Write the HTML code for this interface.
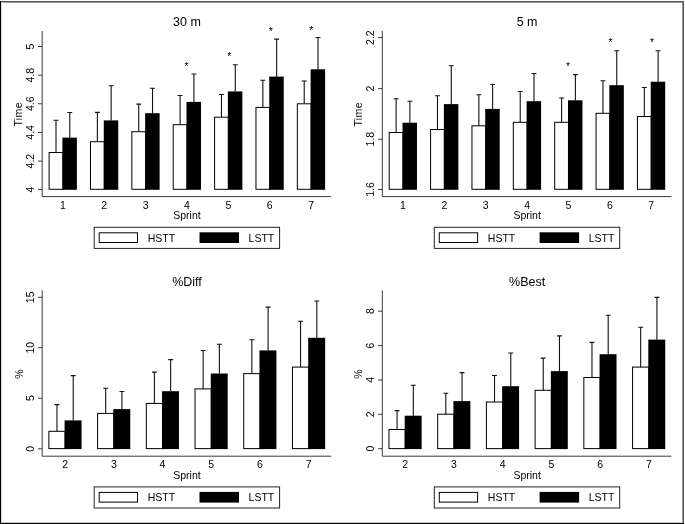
<!DOCTYPE html>
<html><head><meta charset="utf-8"><title>Figure</title>
<style>
html,body{margin:0;padding:0;background:#fff;}
svg{display:block;}
text{font-family:"Liberation Sans",Arial,sans-serif;fill:#000;}
</style></head><body>
<svg width="685" height="524" viewBox="0 0 685 524">
<rect width="685" height="524" fill="#fff"/>
<text x="187" y="26.2" font-size="12.5" text-anchor="middle">30 m</text>
<path d="M56.00 152.50V120.20M53.55 120.20H58.45" stroke="#111" stroke-width="1.1" fill="none"/>
<path d="M69.80 137.70V112.50M67.34 112.50H72.25" stroke="#111" stroke-width="1.1" fill="none"/>
<rect x="49.11" y="152.50" width="13.79" height="36.80" fill="#fff" stroke="#000" stroke-width="1"/>
<rect x="62.40" y="137.60" width="14.49" height="52.20" fill="#000"/>
<text x="62.90" y="208.60" font-size="10.5" text-anchor="middle">1</text>
<path d="M97.38 141.70V112.40M94.92 112.40H99.83" stroke="#111" stroke-width="1.1" fill="none"/>
<path d="M111.16 120.50V85.70M108.71 85.70H113.61" stroke="#111" stroke-width="1.1" fill="none"/>
<rect x="90.48" y="141.70" width="13.79" height="47.60" fill="#fff" stroke="#000" stroke-width="1"/>
<rect x="103.77" y="120.40" width="14.49" height="69.40" fill="#000"/>
<text x="104.27" y="208.60" font-size="10.5" text-anchor="middle">2</text>
<path d="M138.74 131.70V104.10M136.29 104.10H141.19" stroke="#111" stroke-width="1.1" fill="none"/>
<path d="M152.53 113.30V88.30M150.09 88.30H154.98" stroke="#111" stroke-width="1.1" fill="none"/>
<rect x="131.85" y="131.70" width="13.79" height="57.60" fill="#fff" stroke="#000" stroke-width="1"/>
<rect x="145.14" y="113.20" width="14.49" height="76.60" fill="#000"/>
<text x="145.64" y="208.60" font-size="10.5" text-anchor="middle">3</text>
<path d="M180.11 124.70V95.50M177.66 95.50H182.56" stroke="#111" stroke-width="1.1" fill="none"/>
<path d="M193.91 102.00V74.00M191.46 74.00H196.35" stroke="#111" stroke-width="1.1" fill="none"/>
<rect x="173.22" y="124.70" width="13.79" height="64.60" fill="#fff" stroke="#000" stroke-width="1"/>
<rect x="186.51" y="101.90" width="14.49" height="87.90" fill="#000"/>
<text x="187.01" y="208.60" font-size="10.5" text-anchor="middle">4</text>
<path d="M221.48 117.20V94.50M219.03 94.50H223.93" stroke="#111" stroke-width="1.1" fill="none"/>
<path d="M235.28 91.50V64.80M232.83 64.80H237.72" stroke="#111" stroke-width="1.1" fill="none"/>
<rect x="214.59" y="117.20" width="13.79" height="72.10" fill="#fff" stroke="#000" stroke-width="1"/>
<rect x="227.88" y="91.40" width="14.49" height="98.40" fill="#000"/>
<text x="228.38" y="208.60" font-size="10.5" text-anchor="middle">5</text>
<path d="M262.86 107.40V80.20M260.41 80.20H265.31" stroke="#111" stroke-width="1.1" fill="none"/>
<path d="M276.64 76.70V39.10M274.19 39.10H279.09" stroke="#111" stroke-width="1.1" fill="none"/>
<rect x="255.96" y="107.40" width="13.79" height="81.90" fill="#fff" stroke="#000" stroke-width="1"/>
<rect x="269.25" y="76.60" width="14.49" height="113.20" fill="#000"/>
<text x="269.75" y="208.60" font-size="10.5" text-anchor="middle">6</text>
<path d="M304.22 103.80V81.00M301.77 81.00H306.67" stroke="#111" stroke-width="1.1" fill="none"/>
<path d="M318.01 69.40V37.50M315.56 37.50H320.46" stroke="#111" stroke-width="1.1" fill="none"/>
<rect x="297.33" y="103.80" width="13.79" height="85.50" fill="#fff" stroke="#000" stroke-width="1"/>
<rect x="310.62" y="69.30" width="14.49" height="120.50" fill="#000"/>
<text x="311.12" y="208.60" font-size="10.5" text-anchor="middle">7</text>
<text x="186.50" y="69.60" font-size="10.5" text-anchor="middle">*</text>
<text x="229.30" y="59.90" font-size="10.5" text-anchor="middle">*</text>
<text x="270.90" y="35.30" font-size="10.5" text-anchor="middle">*</text>
<text x="311.20" y="33.60" font-size="10.5" text-anchor="middle">*</text>
<path d="M42.2 31.0V196.6H331.3" stroke="#3a3a3a" stroke-width="1" fill="none"/>
<path d="M38.0 46.50H42.2" stroke="#3a3a3a" stroke-width="1"/>
<text transform="translate(33.6 46.50) rotate(-90)" font-size="10.5" text-anchor="middle">5</text>
<path d="M38.0 75.20H42.2" stroke="#3a3a3a" stroke-width="1"/>
<text transform="translate(33.6 75.20) rotate(-90)" font-size="10.5" text-anchor="middle">4.8</text>
<path d="M38.0 103.80H42.2" stroke="#3a3a3a" stroke-width="1"/>
<text transform="translate(33.6 103.80) rotate(-90)" font-size="10.5" text-anchor="middle">4.6</text>
<path d="M38.0 132.40H42.2" stroke="#3a3a3a" stroke-width="1"/>
<text transform="translate(33.6 132.40) rotate(-90)" font-size="10.5" text-anchor="middle">4.4</text>
<path d="M38.0 161.10H42.2" stroke="#3a3a3a" stroke-width="1"/>
<text transform="translate(33.6 161.10) rotate(-90)" font-size="10.5" text-anchor="middle">4.2</text>
<path d="M38.0 189.60H42.2" stroke="#3a3a3a" stroke-width="1"/>
<text transform="translate(33.6 189.60) rotate(-90)" font-size="10.5" text-anchor="middle">4</text>
<text transform="translate(22.40 114.30) rotate(-90)" font-size="10.5" text-anchor="middle" letter-spacing="0.4">Time</text>
<text x="187" y="218.90" font-size="10.5" text-anchor="middle">Sprint</text>
<rect x="94.2" y="227.30" width="185.4" height="21.1" fill="#fff" stroke="#222" stroke-width="1"/>
<rect x="99.2" y="232.80" width="38.3" height="9.7" fill="#fff" stroke="#000" stroke-width="1"/>
<text x="147.7" y="241.60" font-size="10.5">HSTT</text>
<rect x="199.5" y="232.30" width="39.5" height="10.7" fill="#000"/>
<text x="248.6" y="241.60" font-size="10.5">LSTT</text>
<text x="527.1" y="26.2" font-size="12.5" text-anchor="middle">5 m</text>
<path d="M396.11 132.50V98.70M393.66 98.70H398.56" stroke="#111" stroke-width="1.1" fill="none"/>
<path d="M409.89 122.80V101.20M407.44 101.20H412.34" stroke="#111" stroke-width="1.1" fill="none"/>
<rect x="389.21" y="132.50" width="13.79" height="56.80" fill="#fff" stroke="#000" stroke-width="1"/>
<rect x="402.50" y="122.70" width="14.49" height="67.10" fill="#000"/>
<text x="403.00" y="208.60" font-size="10.5" text-anchor="middle">1</text>
<path d="M437.48 129.50V95.70M435.03 95.70H439.93" stroke="#111" stroke-width="1.1" fill="none"/>
<path d="M451.26 104.20V65.70M448.81 65.70H453.71" stroke="#111" stroke-width="1.1" fill="none"/>
<rect x="430.58" y="129.50" width="13.79" height="59.80" fill="#fff" stroke="#000" stroke-width="1"/>
<rect x="443.87" y="104.10" width="14.49" height="85.70" fill="#000"/>
<text x="444.37" y="208.60" font-size="10.5" text-anchor="middle">2</text>
<path d="M478.85 125.80V94.80M476.40 94.80H481.30" stroke="#111" stroke-width="1.1" fill="none"/>
<path d="M492.63 109.00V84.50M490.19 84.50H495.08" stroke="#111" stroke-width="1.1" fill="none"/>
<rect x="471.95" y="125.80" width="13.79" height="63.50" fill="#fff" stroke="#000" stroke-width="1"/>
<rect x="485.24" y="108.90" width="14.49" height="80.90" fill="#000"/>
<text x="485.74" y="208.60" font-size="10.5" text-anchor="middle">3</text>
<path d="M520.22 122.30V91.50M517.76 91.50H522.67" stroke="#111" stroke-width="1.1" fill="none"/>
<path d="M534.00 101.30V73.50M531.55 73.50H536.46" stroke="#111" stroke-width="1.1" fill="none"/>
<rect x="513.32" y="122.30" width="13.79" height="67.00" fill="#fff" stroke="#000" stroke-width="1"/>
<rect x="526.61" y="101.20" width="14.49" height="88.60" fill="#000"/>
<text x="527.11" y="208.60" font-size="10.5" text-anchor="middle">4</text>
<path d="M561.59 122.30V98.00M559.13 98.00H564.04" stroke="#111" stroke-width="1.1" fill="none"/>
<path d="M575.38 100.40V74.60M572.92 74.60H577.83" stroke="#111" stroke-width="1.1" fill="none"/>
<rect x="554.69" y="122.30" width="13.79" height="67.00" fill="#fff" stroke="#000" stroke-width="1"/>
<rect x="567.98" y="100.30" width="14.49" height="89.50" fill="#000"/>
<text x="568.48" y="208.60" font-size="10.5" text-anchor="middle">5</text>
<path d="M602.96 113.30V80.70M600.50 80.70H605.41" stroke="#111" stroke-width="1.1" fill="none"/>
<path d="M616.75 85.30V50.80M614.29 50.80H619.20" stroke="#111" stroke-width="1.1" fill="none"/>
<rect x="596.06" y="113.30" width="13.79" height="76.00" fill="#fff" stroke="#000" stroke-width="1"/>
<rect x="609.35" y="85.20" width="14.49" height="104.60" fill="#000"/>
<text x="609.85" y="208.60" font-size="10.5" text-anchor="middle">6</text>
<path d="M644.33 116.50V87.50M641.88 87.50H646.78" stroke="#111" stroke-width="1.1" fill="none"/>
<path d="M658.12 81.80V50.80M655.66 50.80H660.57" stroke="#111" stroke-width="1.1" fill="none"/>
<rect x="637.43" y="116.50" width="13.79" height="72.80" fill="#fff" stroke="#000" stroke-width="1"/>
<rect x="650.72" y="81.70" width="14.49" height="108.10" fill="#000"/>
<text x="651.22" y="208.60" font-size="10.5" text-anchor="middle">7</text>
<text x="568.00" y="69.70" font-size="10.5" text-anchor="middle">*</text>
<text x="610.50" y="46.20" font-size="10.5" text-anchor="middle">*</text>
<text x="652.00" y="46.20" font-size="10.5" text-anchor="middle">*</text>
<path d="M382.3 31.0V196.6H671.4000000000001" stroke="#3a3a3a" stroke-width="1" fill="none"/>
<path d="M378.1 37.60H382.3" stroke="#3a3a3a" stroke-width="1"/>
<text transform="translate(373.70000000000005 37.60) rotate(-90)" font-size="10.5" text-anchor="middle">2.2</text>
<path d="M378.1 88.60H382.3" stroke="#3a3a3a" stroke-width="1"/>
<text transform="translate(373.70000000000005 88.60) rotate(-90)" font-size="10.5" text-anchor="middle">2</text>
<path d="M378.1 139.20H382.3" stroke="#3a3a3a" stroke-width="1"/>
<text transform="translate(373.70000000000005 139.20) rotate(-90)" font-size="10.5" text-anchor="middle">1.8</text>
<path d="M378.1 189.50H382.3" stroke="#3a3a3a" stroke-width="1"/>
<text transform="translate(373.70000000000005 189.50) rotate(-90)" font-size="10.5" text-anchor="middle">1.6</text>
<text transform="translate(361.90 114.30) rotate(-90)" font-size="10.5" text-anchor="middle" letter-spacing="0.4">Time</text>
<text x="527.1" y="218.90" font-size="10.5" text-anchor="middle">Sprint</text>
<rect x="434.3" y="227.30" width="185.4" height="21.1" fill="#fff" stroke="#222" stroke-width="1"/>
<rect x="439.3" y="232.80" width="38.3" height="9.7" fill="#fff" stroke="#000" stroke-width="1"/>
<text x="487.8" y="241.60" font-size="10.5">HSTT</text>
<rect x="539.6" y="232.30" width="39.5" height="10.7" fill="#000"/>
<text x="588.7" y="241.60" font-size="10.5">LSTT</text>
<text x="187" y="285.59999999999997" font-size="12.5" text-anchor="middle">%Diff</text>
<path d="M56.98 431.30V404.60M54.53 404.60H59.43" stroke="#111" stroke-width="1.1" fill="none"/>
<path d="M73.22 420.50V375.60M70.77 375.60H75.67" stroke="#111" stroke-width="1.1" fill="none"/>
<rect x="48.86" y="431.30" width="16.24" height="17.30" fill="#fff" stroke="#000" stroke-width="1"/>
<rect x="64.60" y="420.40" width="16.94" height="28.70" fill="#000"/>
<text x="65.10" y="468.20" font-size="10.5" text-anchor="middle">2</text>
<path d="M105.70 413.40V388.30M103.25 388.30H108.15" stroke="#111" stroke-width="1.1" fill="none"/>
<path d="M121.94 409.20V391.50M119.49 391.50H124.39" stroke="#111" stroke-width="1.1" fill="none"/>
<rect x="97.58" y="413.40" width="16.24" height="35.20" fill="#fff" stroke="#000" stroke-width="1"/>
<rect x="113.32" y="409.10" width="16.94" height="40.00" fill="#000"/>
<text x="113.82" y="468.20" font-size="10.5" text-anchor="middle">3</text>
<path d="M154.42 403.40V372.10M151.97 372.10H156.87" stroke="#111" stroke-width="1.1" fill="none"/>
<path d="M170.66 391.30V359.60M168.21 359.60H173.11" stroke="#111" stroke-width="1.1" fill="none"/>
<rect x="146.30" y="403.40" width="16.24" height="45.20" fill="#fff" stroke="#000" stroke-width="1"/>
<rect x="162.04" y="391.20" width="16.94" height="57.90" fill="#000"/>
<text x="162.54" y="468.20" font-size="10.5" text-anchor="middle">4</text>
<path d="M203.14 388.90V350.50M200.69 350.50H205.59" stroke="#111" stroke-width="1.1" fill="none"/>
<path d="M219.38 373.60V344.20M216.93 344.20H221.83" stroke="#111" stroke-width="1.1" fill="none"/>
<rect x="195.02" y="388.90" width="16.24" height="59.70" fill="#fff" stroke="#000" stroke-width="1"/>
<rect x="210.76" y="373.50" width="16.94" height="75.60" fill="#000"/>
<text x="211.26" y="468.20" font-size="10.5" text-anchor="middle">5</text>
<path d="M251.86 373.60V339.70M249.41 339.70H254.31" stroke="#111" stroke-width="1.1" fill="none"/>
<path d="M268.10 350.50V307.10M265.65 307.10H270.55" stroke="#111" stroke-width="1.1" fill="none"/>
<rect x="243.74" y="373.60" width="16.24" height="75.00" fill="#fff" stroke="#000" stroke-width="1"/>
<rect x="259.48" y="350.40" width="16.94" height="98.70" fill="#000"/>
<text x="259.98" y="468.20" font-size="10.5" text-anchor="middle">6</text>
<path d="M300.58 367.10V321.20M298.13 321.20H303.03" stroke="#111" stroke-width="1.1" fill="none"/>
<path d="M316.82 337.90V301.00M314.37 301.00H319.27" stroke="#111" stroke-width="1.1" fill="none"/>
<rect x="292.46" y="367.10" width="16.24" height="81.50" fill="#fff" stroke="#000" stroke-width="1"/>
<rect x="308.20" y="337.80" width="16.94" height="111.30" fill="#000"/>
<text x="308.70" y="468.20" font-size="10.5" text-anchor="middle">7</text>
<path d="M42.2 290.4V456.2H331.3" stroke="#3a3a3a" stroke-width="1" fill="none"/>
<path d="M38.0 297.30H42.2" stroke="#3a3a3a" stroke-width="1"/>
<text transform="translate(33.6 297.30) rotate(-90)" font-size="10.5" text-anchor="middle">15</text>
<path d="M38.0 347.70H42.2" stroke="#3a3a3a" stroke-width="1"/>
<text transform="translate(33.6 347.70) rotate(-90)" font-size="10.5" text-anchor="middle">10</text>
<path d="M38.0 398.20H42.2" stroke="#3a3a3a" stroke-width="1"/>
<text transform="translate(33.6 398.20) rotate(-90)" font-size="10.5" text-anchor="middle">5</text>
<path d="M38.0 448.80H42.2" stroke="#3a3a3a" stroke-width="1"/>
<text transform="translate(33.6 448.80) rotate(-90)" font-size="10.5" text-anchor="middle">0</text>
<text transform="translate(22.70 374.10) rotate(-90)" font-size="10.5" text-anchor="middle">%</text>
<text x="187" y="478.50" font-size="10.5" text-anchor="middle">Sprint</text>
<rect x="94.2" y="486.90" width="185.4" height="21.1" fill="#fff" stroke="#222" stroke-width="1"/>
<rect x="99.2" y="492.40" width="38.3" height="9.7" fill="#fff" stroke="#000" stroke-width="1"/>
<text x="147.7" y="501.20" font-size="10.5">HSTT</text>
<rect x="199.5" y="491.90" width="39.5" height="10.7" fill="#000"/>
<text x="248.6" y="501.20" font-size="10.5">LSTT</text>
<text x="527.1" y="285.59999999999997" font-size="12.5" text-anchor="middle">%Best</text>
<path d="M397.08 429.50V410.60M394.63 410.60H399.53" stroke="#111" stroke-width="1.1" fill="none"/>
<path d="M413.32 415.80V385.20M410.87 385.20H415.77" stroke="#111" stroke-width="1.1" fill="none"/>
<rect x="388.96" y="429.50" width="16.24" height="19.10" fill="#fff" stroke="#000" stroke-width="1"/>
<rect x="404.70" y="415.70" width="16.94" height="33.40" fill="#000"/>
<text x="405.20" y="468.20" font-size="10.5" text-anchor="middle">2</text>
<path d="M445.80 414.20V393.30M443.35 393.30H448.25" stroke="#111" stroke-width="1.1" fill="none"/>
<path d="M462.04 401.20V372.60M459.59 372.60H464.49" stroke="#111" stroke-width="1.1" fill="none"/>
<rect x="437.68" y="414.20" width="16.24" height="34.40" fill="#fff" stroke="#000" stroke-width="1"/>
<rect x="453.42" y="401.10" width="16.94" height="48.00" fill="#000"/>
<text x="453.92" y="468.20" font-size="10.5" text-anchor="middle">3</text>
<path d="M494.52 402.00V375.50M492.07 375.50H496.97" stroke="#111" stroke-width="1.1" fill="none"/>
<path d="M510.76 386.30V353.00M508.31 353.00H513.21" stroke="#111" stroke-width="1.1" fill="none"/>
<rect x="486.40" y="402.00" width="16.24" height="46.60" fill="#fff" stroke="#000" stroke-width="1"/>
<rect x="502.14" y="386.20" width="16.94" height="62.90" fill="#000"/>
<text x="502.64" y="468.20" font-size="10.5" text-anchor="middle">4</text>
<path d="M543.24 390.30V358.10M540.79 358.10H545.69" stroke="#111" stroke-width="1.1" fill="none"/>
<path d="M559.48 371.20V335.90M557.03 335.90H561.93" stroke="#111" stroke-width="1.1" fill="none"/>
<rect x="535.12" y="390.30" width="16.24" height="58.30" fill="#fff" stroke="#000" stroke-width="1"/>
<rect x="550.86" y="371.10" width="16.94" height="78.00" fill="#000"/>
<text x="551.36" y="468.20" font-size="10.5" text-anchor="middle">5</text>
<path d="M591.96 377.50V342.40M589.51 342.40H594.41" stroke="#111" stroke-width="1.1" fill="none"/>
<path d="M608.20 354.30V315.20M605.75 315.20H610.65" stroke="#111" stroke-width="1.1" fill="none"/>
<rect x="583.84" y="377.50" width="16.24" height="71.10" fill="#fff" stroke="#000" stroke-width="1"/>
<rect x="599.58" y="354.20" width="16.94" height="94.90" fill="#000"/>
<text x="600.08" y="468.20" font-size="10.5" text-anchor="middle">6</text>
<path d="M640.68 367.10V327.30M638.23 327.30H643.13" stroke="#111" stroke-width="1.1" fill="none"/>
<path d="M656.92 339.70V297.40M654.47 297.40H659.37" stroke="#111" stroke-width="1.1" fill="none"/>
<rect x="632.56" y="367.10" width="16.24" height="81.50" fill="#fff" stroke="#000" stroke-width="1"/>
<rect x="648.30" y="339.60" width="16.94" height="109.50" fill="#000"/>
<text x="648.80" y="468.20" font-size="10.5" text-anchor="middle">7</text>
<path d="M382.3 290.4V456.2H671.4000000000001" stroke="#3a3a3a" stroke-width="1" fill="none"/>
<path d="M378.1 311.20H382.3" stroke="#3a3a3a" stroke-width="1"/>
<text transform="translate(373.70000000000005 311.20) rotate(-90)" font-size="10.5" text-anchor="middle">8</text>
<path d="M378.1 345.60H382.3" stroke="#3a3a3a" stroke-width="1"/>
<text transform="translate(373.70000000000005 345.60) rotate(-90)" font-size="10.5" text-anchor="middle">6</text>
<path d="M378.1 379.90H382.3" stroke="#3a3a3a" stroke-width="1"/>
<text transform="translate(373.70000000000005 379.90) rotate(-90)" font-size="10.5" text-anchor="middle">4</text>
<path d="M378.1 414.30H382.3" stroke="#3a3a3a" stroke-width="1"/>
<text transform="translate(373.70000000000005 414.30) rotate(-90)" font-size="10.5" text-anchor="middle">2</text>
<path d="M378.1 448.70H382.3" stroke="#3a3a3a" stroke-width="1"/>
<text transform="translate(373.70000000000005 448.70) rotate(-90)" font-size="10.5" text-anchor="middle">0</text>
<text transform="translate(362.30 374.10) rotate(-90)" font-size="10.5" text-anchor="middle">%</text>
<text x="527.1" y="478.50" font-size="10.5" text-anchor="middle">Sprint</text>
<rect x="434.3" y="486.90" width="185.4" height="21.1" fill="#fff" stroke="#222" stroke-width="1"/>
<rect x="439.3" y="492.40" width="38.3" height="9.7" fill="#fff" stroke="#000" stroke-width="1"/>
<text x="487.8" y="501.20" font-size="10.5">HSTT</text>
<rect x="539.6" y="491.90" width="39.5" height="10.7" fill="#000"/>
<text x="588.7" y="501.20" font-size="10.5">LSTT</text>
<rect x="1" y="2" width="682" height="1" fill="#999"/>
<rect x="682" y="2" width="1" height="521" fill="#999"/>
<rect x="1" y="522" width="682" height="1" fill="#c4c4c4"/>
<rect x="1" y="2" width="1" height="521" fill="#ddd"/>
<rect x="0" y="1" width="684" height="1" fill="#555"/>
<rect x="683" y="1" width="1" height="523" fill="#555"/>
<rect x="0" y="1" width="1" height="523" fill="#000"/>
<rect x="0" y="523" width="684" height="1" fill="#000"/>
</svg>
</body></html>
